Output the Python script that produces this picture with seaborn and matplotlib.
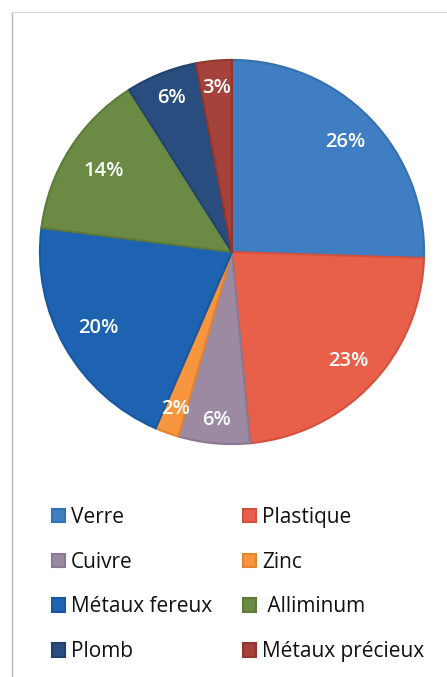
import matplotlib.pyplot as plt
import seaborn as sns
import numpy as np
from matplotlib.lines import Line2D

# Données
categories = ['Verre', 'Plastique', 'Cuivre', 'Zinc', 'Métaux fereux',
              'Alliminum', 'Plomb', 'Métaux précieux']
valeurs = [25.5, 23, 6, 2, 20.5, 14, 6, 3]
etiquettes = ['26%', '23%', '6%', '2%', '20%', '14%', '6%', '3%']
couleurs = ['#3F7EC2', '#E8604A', '#9C8AA3', '#F7963E', '#1E63B2',
            '#6B8A44', '#294D7E', '#A5423B']
bords = ['#3570B0', '#D3523F', '#8B7993', '#E5842F', '#1A57A0',
         '#5D7A3A', '#22426E', '#913730']

sns.set_theme(style='white')
plt.rcParams['font.family'] = ['Open Sans', 'DejaVu Sans']

fig = plt.figure(figsize=(4.47, 6.77), dpi=100)
W, H = 447, 677

# cadre léger du document scanné
fig.add_artist(Line2D([12 / W, 12 / W], [0, 1 - 12 / H], color='#B9B4C8', lw=1))
fig.add_artist(Line2D([12 / W, 1], [1 - 12 / H, 1 - 12 / H], color='#DADADA', lw=0.8))

# camembert
cx, cy, r = 232, 252, 194
ax = fig.add_axes([(cx - r) / W, 1 - (cy + r) / H, 2 * r / W, 2 * r / H])
wedges, _ = ax.pie(valeurs, colors=couleurs, startangle=90, counterclock=False,
                   radius=1, wedgeprops=dict(linewidth=1.5))
for w, b in zip(wedges, bords):
    w.set_edgecolor(b)

# pourcentages
dist = [0.82, 0.83, 0.88, 0.87, 0.80, 0.79, 0.86, 0.86]
for w, lab, d in zip(wedges, etiquettes, dist):
    ang = np.deg2rad((w.theta1 + w.theta2) / 2)
    ax.text(d * np.cos(ang), d * np.sin(ang), lab, ha='center', va='center',
            color='white', fontsize=14.5, fontweight='semibold')
ax.set_xlim(-1.01, 1.01)
ax.set_ylim(-1.01, 1.01)
ax.set_aspect('equal')
ax.axis('off')

# légende en lignes (ordre ligne par ligne)
ordre = [0, 2, 4, 6, 1, 3, 5, 7]
noms = [c if c != 'Alliminum' else ' Alliminum' for c in categories]
fig.legend([wedges[i] for i in ordre], [noms[i] for i in ordre],
           ncol=2, frameon=False, loc='upper left',
           bbox_to_anchor=(52 / W, 1 - 507 / H), borderpad=0, borderaxespad=0,
           fontsize=15, handlelength=0.62, handleheight=0.62,
           handletextpad=0.28, labelspacing=1.14, columnspacing=1.5,
           labelcolor='#111111')

fig.savefig('out.png', dpi=100)
